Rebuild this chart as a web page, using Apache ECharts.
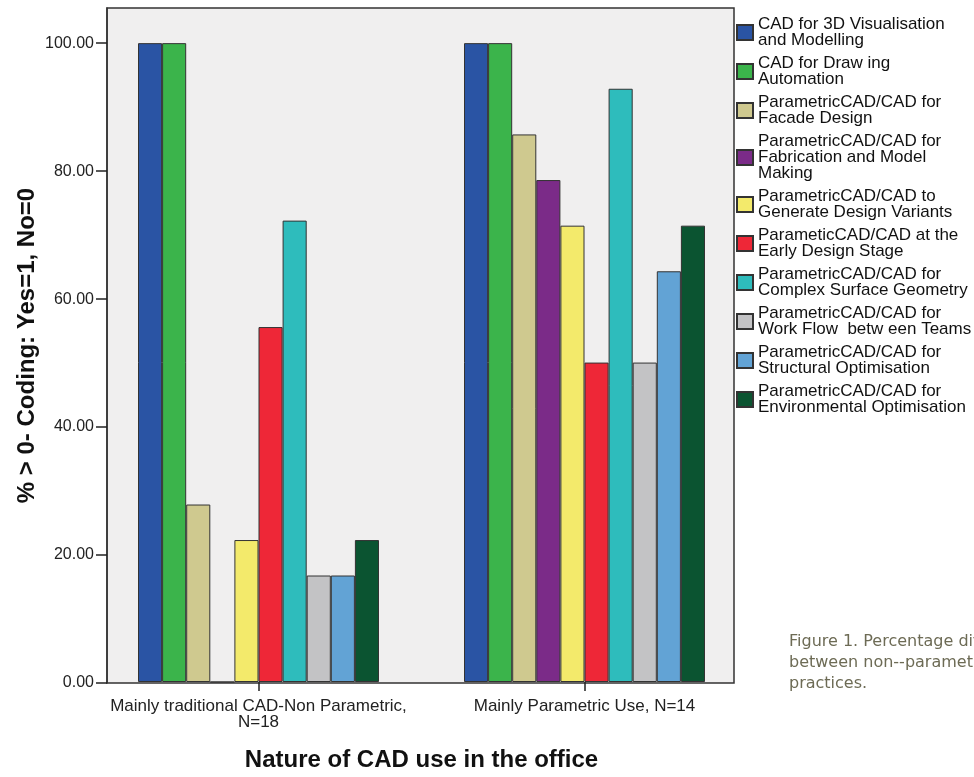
<!DOCTYPE html>
<html>
<head>
<meta charset="utf-8">
<script src="https://cdn.jsdelivr.net/npm/echarts@6/dist/echarts.min.js"></script>
<style>
  html, body { margin: 0; padding: 0; background: #ffffff; }
  #chart { width: 974px; height: 777px; }
</style>
</head>
<body>
<div id="chart"></div>
<script>
// ---- data ----
const categories = ['Mainly traditional CAD-Non Parametric,\nN=18', 'Mainly Parametric Use, N=14'];
const seriesNames = [
  'CAD for 3D Visualisation\nand Modelling',
  'CAD for Draw ing\nAutomation',
  'ParametricCAD/CAD for\nFacade Design',
  'ParametricCAD/CAD for\nFabrication and Model\nMaking',
  'ParametricCAD/CAD to\nGenerate Design Variants',
  'ParameticCAD/CAD at the\nEarly Design Stage',
  'ParametricCAD/CAD for\nComplex Surface Geometry',
  'ParametricCAD/CAD for\nWork Flow  betw een Teams',
  'ParametricCAD/CAD for\nStructural Optimisation',
  'ParametricCAD/CAD for\nEnvironmental Optimisation'
];
const nonParametricN18 = [100, 100, 27.78, 0, 22.22, 55.56, 72.22, 16.67, 16.67, 22.22];
const parametricN14 = [100, 100, 85.71, 78.57, 71.43, 50, 92.86, 50, 64.29, 71.43];
const yTicks = [0, 20, 40, 60, 80, 100];
const yTitle = '% > 0- Coding: Yes=1, No=0';
const xTitle = 'Nature of CAD use in the office';
const captionLines = ['Figure 1. Percentage differences', 'between non--parametric and parametric', 'practices.'];

// ---- styles ----
const seriesColors = ['#2a54a4', '#3bb44b', '#cfc98f', '#7b2b88', '#f3ea6b', '#ee2737', '#2ebcbc', '#c3c3c5', '#62a3d5', '#0b5431'];
const FONT = '"Liberation Sans", Arial, sans-serif';
const Y_MAX = 105.5;

const chart = echarts.init(document.getElementById('chart'), null, { renderer: 'canvas' });

const series = seriesNames.map((name, i) => ({
  name: name,
  type: 'bar',
  xAxisIndex: 0,
  yAxisIndex: 0,
  barWidth: 24.1,
  barGap: '0%',
  data: [nonParametricN18[i], parametricN14[i]],
  itemStyle: { color: seriesColors[i], borderColor: '#333', borderWidth: 1 },
  emphasis: { disabled: true }
}));

chart.setOption({
  animation: false,
  backgroundColor: '#ffffff',
  textStyle: { fontFamily: FONT },
  grid: [
    { left: 95.5, right: 226.5, top: 8, bottom: 94, show: false },
    { left: 107, right: 240, top: 8, bottom: 94, show: true, backgroundColor: '#f0efef', borderColor: '#333', borderWidth: 1.5 }
  ],
  xAxis: [
    {
      type: 'category', gridIndex: 0, data: categories,
      axisLine: { show: false },
      axisTick: { show: true, alignWithLabel: true, length: 9, lineStyle: { color: '#222', width: 1.5 } },
      axisLabel: { fontSize: 17, color: '#222', lineHeight: 16, margin: 16, fontFamily: FONT, interval: 0 },
      name: xTitle, nameLocation: 'middle', nameGap: 66, nameMoveOverlap: false,
      nameTextStyle: { fontSize: 24, fontWeight: 'bold', color: '#111', fontFamily: FONT },
      splitLine: { show: false }
    },
    { type: 'value', gridIndex: 1, show: false, min: 0, max: 1 }
  ],
  yAxis: [
    { type: 'value', gridIndex: 0, min: 0, max: Y_MAX, show: false, splitLine: { show: false } },
    {
      type: 'value', gridIndex: 1, min: 0, max: Y_MAX,
      axisLine: { show: true, lineStyle: { color: '#333', width: 1.5 } },
      axisTick: { show: true, length: 11, customValues: yTicks, lineStyle: { color: '#222', width: 1.5 } },
      axisLabel: { customValues: yTicks, fontSize: 16, color: '#222', margin: 13, fontFamily: FONT, formatter: v => v.toFixed(2) },
      splitLine: { show: false },
      name: yTitle, nameLocation: 'middle', nameGap: 68, nameMoveOverlap: false,
      nameTextStyle: { fontSize: 24, fontWeight: 'bold', color: '#111', fontFamily: FONT }
    }
  ],
  legend: {
    orient: 'vertical', left: 736, top: 16, padding: 0,
    itemWidth: 16, itemHeight: 15, itemGap: 6,
    icon: 'rect',
    selectedMode: false,
    textStyle: { fontSize: 17, lineHeight: 16, color: '#111', fontFamily: FONT },
    data: seriesNames
  },
  graphic: [
    {
      type: 'text', left: 789, top: 631, silent: true,
      style: {
        text: captionLines.join('\n'),
        font: '16px "DejaVu Sans", sans-serif',
        lineHeight: 21,
        fill: '#6d6b55'
      }
    }
  ],
  series: series
});
</script>
</body>
</html>
